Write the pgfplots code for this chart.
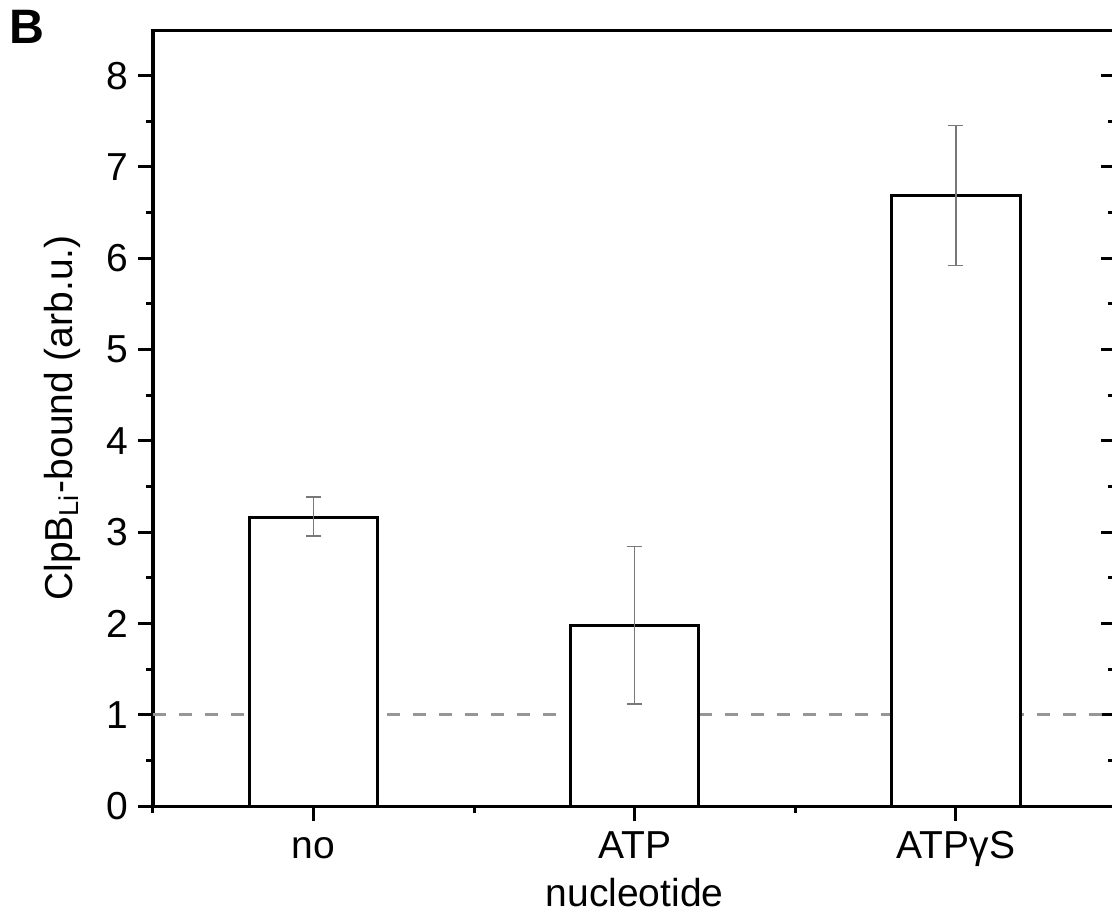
\documentclass[border=0pt]{standalone}
\usepackage{fontspec}
\setmainfont{Liberation Sans}
\usepackage{pgfplots}
\pgfplotsset{compat=1.18}
\definecolor{errgray}{RGB}{120,120,120}
\definecolor{dashgray}{RGB}{150,150,150}
\begin{document}
\fontsize{11.7}{14}\selectfont
\begin{tikzpicture}
% overlay axis only for the inward ticks on the right spine
\begin{axis}[
  width=289pt, height=232.8pt, scale only axis,
  xmin=0.5, xmax=3.5, ymin=0, ymax=8.5,
  xtick=\empty, ytick={0,1,...,8}, minor y tick num=1,
  ytick pos=right, tick align=inside, yticklabels={},
  major tick length=4.5pt, minor tick length=2.4pt,
  axis line style={line width=0.9pt},
  every tick/.style={line width=0.9pt, black},
]
\end{axis}
\begin{axis}[
  name=main,
  width=289pt, height=232.8pt, scale only axis,
  xmin=0.5, xmax=3.5, ymin=0, ymax=8.5,
  xtick={1,2,3}, xticklabels={no, ATP, ATPγS},
  minor xtick={0.5,1.5,2.5,3.5},
  ytick={0,1,...,8}, minor y tick num=1,
  xtick pos=bottom, ytick pos=left, tick align=outside,
  major tick length=4.5pt, minor tick length=2.1pt,
  axis line style={line width=0.9pt},
  every tick/.style={line width=0.9pt, black},
  /pgf/number format/assume math mode=true,
  ticklabel style={font=\fontsize{11.7}{14}\selectfont},
  xticklabel style={yshift=1.5pt, text height=8.5pt, text depth=2.5pt},
  yticklabel style={xshift=1.2pt},
  label style={font=\fontsize{11.7}{14}\selectfont},
  xlabel={nucleotide},
  ylabel={ClpB\textsubscript{Li}-bound (arb.u.)},
  xlabel style={yshift=4.5pt},
  ylabel style={yshift=-0.3pt},
  clip=false,
]
\addplot[dashgray, line width=0.9pt, dash pattern=on 4pt off 3.8pt]
  coordinates {(0.5,1) (3.5,1)};
\addplot[ybar, bar width=0.4, fill=white, draw=black, line width=0.9pt,
  error bars/.cd, y dir=both, y explicit,
  error bar style={errgray, line width=0.45pt},
  error mark options={errgray, line width=0.45pt, mark size=2.3pt, rotate=90}]
  coordinates {
    (1,3.163) += (0,0.220) -= (0,0.203)
    (2,1.973) += (0,0.869) -= (0,0.855)
    (3,6.685) += (0,0.770) -= (0,0.766)
  };
\node[font=\bfseries\fontsize{14.5}{16}\selectfont, anchor=center]
  at (rel axis cs:-0.131,1.004) {B};
\end{axis}
% page cut like the reference (right spine falls just outside)
\pgfresetboundingbox
\path[use as bounding box] ([shift={(-45.9pt,-31.5pt)}]main.south west)
  rectangle ([shift={(287.7pt,9pt)}]main.north west);
\end{tikzpicture}
\end{document}
